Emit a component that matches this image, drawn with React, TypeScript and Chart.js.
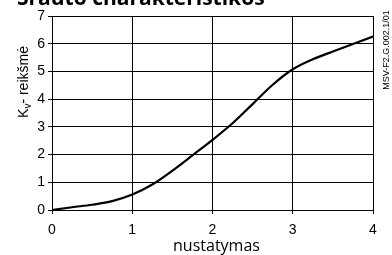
import React, { useEffect, useRef } from "react";
import { Chart, registerables } from "chart.js";

Chart.register(...registerables);

const settings: number[] = [0, 0.25, 0.5, 0.75, 1, 1.25, 1.5, 1.75, 2, 2.25, 2.5, 2.75, 3, 3.25, 3.5, 3.75, 4];
const kvValues: number[] = [0, 0.1, 0.19, 0.32, 0.56, 0.92, 1.42, 1.97, 2.53, 3.13, 3.82, 4.52, 5.08, 5.44, 5.72, 5.99, 6.26];
const xTicks: number[] = [0, 1, 2, 3, 4];
const yTicks: number[] = [0, 1, 2, 3, 4, 5, 6, 7];
const titleText = "Srauto charakteristikos";
const xTitle = "nustatymas";
const yTitleMain = "K";
const yTitleSub = "v";
const yTitleRest = "- reikšmė";
const sideNote = "MSV-F2.G.002.1/01";

export default function App() {
  const ref = useRef<HTMLCanvasElement | null>(null);

  useEffect(() => {
    const canvas = ref.current;
    if (!canvas) return;

    const textPlugin = {
      id: "texts",
      afterDraw(chart: any) {
        const ctx = chart.ctx as CanvasRenderingContext2D;
        const area = chart.chartArea;
        ctx.save();
        ctx.fillStyle = "#000";
        // title (partly cut off at top)
        ctx.font = 'bold 21px "Open Sans"';
        ctx.textAlign = "left";
        ctx.textBaseline = "alphabetic";
        ctx.fillText(titleText, 17, 5);

        // x axis title
        ctx.font = '16px "Open Sans"';
        ctx.textAlign = "center";
        ctx.textBaseline = "middle";
        ctx.fillText(xTitle, (area.left + area.right) / 2 + 4, 246);

        // y axis title with subscript
        ctx.save();
        ctx.translate(23, 82);
        ctx.rotate(-Math.PI / 2);
        const mainFont = '14px "Liberation Sans"';
        const subFont = '10px "Liberation Sans"';
        ctx.font = mainFont;
        const wK = ctx.measureText(yTitleMain).width;
        const wRest = ctx.measureText(yTitleRest).width;
        ctx.font = subFont;
        const wSub = ctx.measureText(yTitleSub).width;
        const total = wK + wSub + wRest;
        let x = -total / 2;
        ctx.textAlign = "left";
        ctx.textBaseline = "alphabetic";
        ctx.font = mainFont;
        ctx.fillText(yTitleMain, x, 5);
        x += wK;
        ctx.font = subFont;
        ctx.fillText(yTitleSub, x, 8);
        x += wSub;
        ctx.font = mainFont;
        ctx.fillText(yTitleRest, x, 5);
        ctx.restore();

        // side note
        ctx.save();
        ctx.translate(387, 50);
        ctx.rotate(-Math.PI / 2);
        ctx.font = '9px "Liberation Sans"';
        ctx.textAlign = "center";
        ctx.textBaseline = "middle";
        ctx.fillText(sideNote, 0, 0);
        ctx.restore();

        ctx.restore();
      },
    };

    const chart = new Chart(canvas, {
      type: "line",
      data: {
        datasets: [
          {
            data: settings.map((s, i) => ({ x: s, y: kvValues[i] })),
            borderColor: "#000",
            borderWidth: 2.2,
            pointRadius: 0,
            cubicInterpolationMode: "monotone",
            fill: false,
          },
        ],
      },
      options: {
        responsive: false,
        animation: false,
        devicePixelRatio: 1,
        layout: { padding: { left: 0, right: 19, top: 16, bottom: 0 } },
        plugins: {
          legend: { display: false },
          tooltip: { enabled: false },
          title: { display: false },
        },
        scales: {
          x: {
            type: "linear",
            min: 0,
            max: 4,
            afterFit(scale: any) {
              scale.height = 45;
            },
            afterBuildTicks(scale: any) {
              scale.ticks = xTicks.map((v) => ({ value: v }));
            },
            grid: { color: "#000", lineWidth: 1, tickLength: 4, drawTicks: true },
            border: { display: true, color: "#000", width: 1 },
            ticks: {
              color: "#000",
              font: { family: "Liberation Sans", size: 14 },
              padding: 8,
              maxRotation: 0,
            },
          },
          y: {
            type: "linear",
            min: 0,
            max: 7,
            afterFit(scale: any) {
              scale.width = 52;
            },
            afterBuildTicks(scale: any) {
              scale.ticks = yTicks.map((v) => ({ value: v }));
            },
            grid: { color: "#000", lineWidth: 1, tickLength: 4, drawTicks: true },
            border: { display: true, color: "#000", width: 1 },
            ticks: {
              color: "#000",
              font: { family: "Liberation Sans", size: 14 },
              padding: 3,
            },
          },
        },
      },
      plugins: [textPlugin],
    } as any);

    return () => chart.destroy();
  }, []);

  return (
    <div style={{ position: "fixed", left: 0, top: 0, width: 392, height: 255, background: "#fff" }}>
      <canvas ref={ref} width={392} height={255} style={{ display: "block" }} />
    </div>
  );
}
